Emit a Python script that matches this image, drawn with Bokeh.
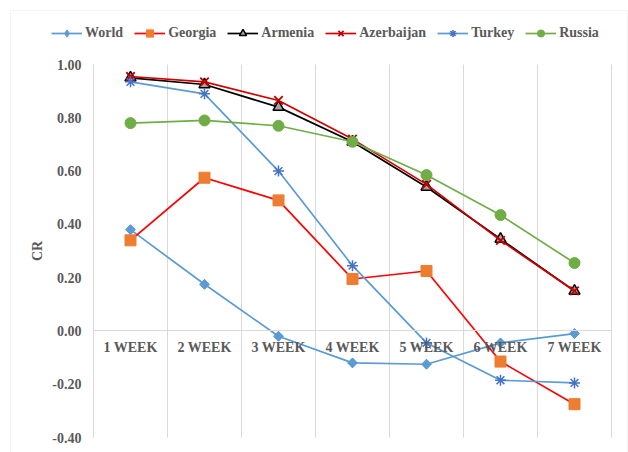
from bokeh.plotting import figure
from bokeh.models import (Range1d, FixedTicker, NumeralTickFormatter, Legend, LegendItem, BoxAnnotation)
from bokeh.embed import file_html
from bokeh.resources import INLINE
import math

weeks = ["1 WEEK", "2 WEEK", "3 WEEK", "4 WEEK", "5 WEEK", "6 WEEK", "7 WEEK"]
world = [0.38, 0.175, -0.02, -0.12, -0.125, -0.045, -0.01]
georgia = [0.34, 0.575, 0.49, 0.195, 0.225, -0.115, -0.275]
armenia = [0.95, 0.925, 0.84, 0.71, 0.54, 0.345, 0.15]
azerbaijan = [0.955, 0.935, 0.865, 0.72, 0.55, 0.34, 0.15]
turkey = [0.935, 0.89, 0.60, 0.245, -0.045, -0.185, -0.195]
russia = [0.78, 0.79, 0.77, 0.71, 0.585, 0.435, 0.255]
y_ticks = [-0.4, -0.2, 0.0, 0.2, 0.4, 0.6, 0.8, 1.0]

xs = list(range(1, len(weeks) + 1))

FONT = "Liberation Serif"
GRAY = "#595959"
GRID = "#d9d9d9"

# canvas geometry (px): plot area spans x 93..611, y 64..437 in a 628x452 canvas
W, H = 628, 452
PL, PR, PT, PB = 93, 611, 64, 437
x_lo, x_hi = 0.5, len(weeks) + 0.5
y_lo, y_hi = min(y_ticks), max(y_ticks)
xppu = (PR - PL) / (x_hi - x_lo)
yppu = (PB - PT) / (y_hi - y_lo)
x_range = Range1d(x_lo - PL / xppu, x_hi + (W - PR) / xppu)
y_range = Range1d(y_lo - (H - PB) / yppu, y_hi + PT / yppu)

p = figure(width=W, height=H, x_range=x_range, y_range=y_range,
           output_backend="svg", toolbar_location=None,
           min_border_left=0, min_border_right=0, min_border_top=0, min_border_bottom=0)
p.outline_line_color = None
p.xgrid.visible = False
p.ygrid.visible = False

# outer chart border (top, left, right)
p.add_layout(BoxAnnotation(left=x_range.start + 10 / xppu, right=x_range.start + 627 / xppu,
                           top=y_range.end - 10 / yppu, bottom=y_range.start - 20 / yppu,
                           fill_alpha=0, line_color=GRID, line_width=1, level="underlay"))

# y axis
yax = p.yaxis[0]
yax.fixed_location = x_lo
yax.bounds = (y_lo, y_hi)
yax.ticker = FixedTicker(ticks=y_ticks)
yax.formatter = NumeralTickFormatter(format="0.00")
yax.major_tick_line_color = None
yax.major_tick_out = 0
yax.major_tick_in = 0
yax.minor_tick_line_color = None
yax.axis_line_color = GRID
yax.major_label_text_font = FONT
yax.major_label_text_font_style = "bold"
yax.major_label_text_font_size = "14px"
yax.major_label_text_color = GRAY
yax.major_label_standoff = 12
yax.axis_label = "CR"
yax.axis_label_text_font = FONT
yax.axis_label_text_font_style = "bold"
yax.axis_label_text_font_size = "14px"
yax.axis_label_text_color = GRAY
yax.axis_label_standoff = 4

# x axis at zero
xax = p.xaxis[0]
xax.fixed_location = 0
xax.bounds = (x_lo, x_hi)
xax.ticker = FixedTicker(ticks=xs)
xax.major_label_overrides = {i: w for i, w in zip(xs, weeks)}
xax.major_tick_line_color = None
xax.major_tick_out = 0
xax.major_tick_in = 0
xax.minor_tick_line_color = None
xax.axis_line_color = GRID
xax.major_label_text_font = FONT
xax.major_label_text_font_style = "bold"
xax.major_label_text_font_size = "14px"
xax.major_label_text_color = GRAY
xax.major_label_standoff = 9

# vertical gridlines at category boundaries
bounds_x = [i + 0.5 for i in range(len(weeks) + 1)]
p.segment(x0=bounds_x, x1=bounds_x, y0=[y_lo] * len(bounds_x), y1=[y_hi] * len(bounds_x),
          line_color=GRID, line_width=1)

items = []
def series(name, ys, line_color, marker, fill, mline, size, mlw=1.0, diamond=False):
    r1 = p.line(xs, ys, line_color=line_color, line_width=1.7)
    if diamond:
        # legend-facing diamond, fully covered by a 45-degree rotated square on the plot
        r2 = p.scatter(xs, ys, marker="diamond", size=9.5, fill_color=fill, line_color=mline)
        p.scatter(xs, ys, marker="square", size=size, fill_color=fill, line_color=mline,
                  angle=math.pi / 4)
    else:
        r2 = p.scatter(xs, ys, marker=marker, size=size, fill_color=fill, line_color=mline,
                       line_width=mlw)
    items.append(LegendItem(label=name, renderers=[r1, r2]))

series("World", world, "#5B9BD5", "square", "#5B9BD5", "#5B9BD5", 7, diamond=True)
series("Georgia", georgia, "#FF0000", "square", "#ED7D31", "#ED7D31", 11)
series("Armenia", armenia, "#000000", "triangle", "#A5A5A5", "#000000", 11, mlw=1.5)
series("Azerbaijan", azerbaijan, "#D40000", "x", None, "#C00000", 12, mlw=1.8)
series("Turkey", turkey, "#5B9BD5", "asterisk", None, "#4472C4", 11, mlw=1.5)
series("Russia", russia, "#70AD47", "circle", "#70AD47", "#70AD47", 11)

legend = Legend(items=items, orientation="horizontal", location=(51, H - 42),
                glyph_width=31, glyph_height=18, label_height=18, label_standoff=3,
                spacing=11, padding=0, margin=0,
                label_text_font=FONT, label_text_font_style="bold",
                label_text_font_size="14px", label_text_color=GRAY,
                border_line_color=None, background_fill_alpha=0)
p.add_layout(legend, "center")

open("out.html", "w").write(file_html(p, INLINE))
